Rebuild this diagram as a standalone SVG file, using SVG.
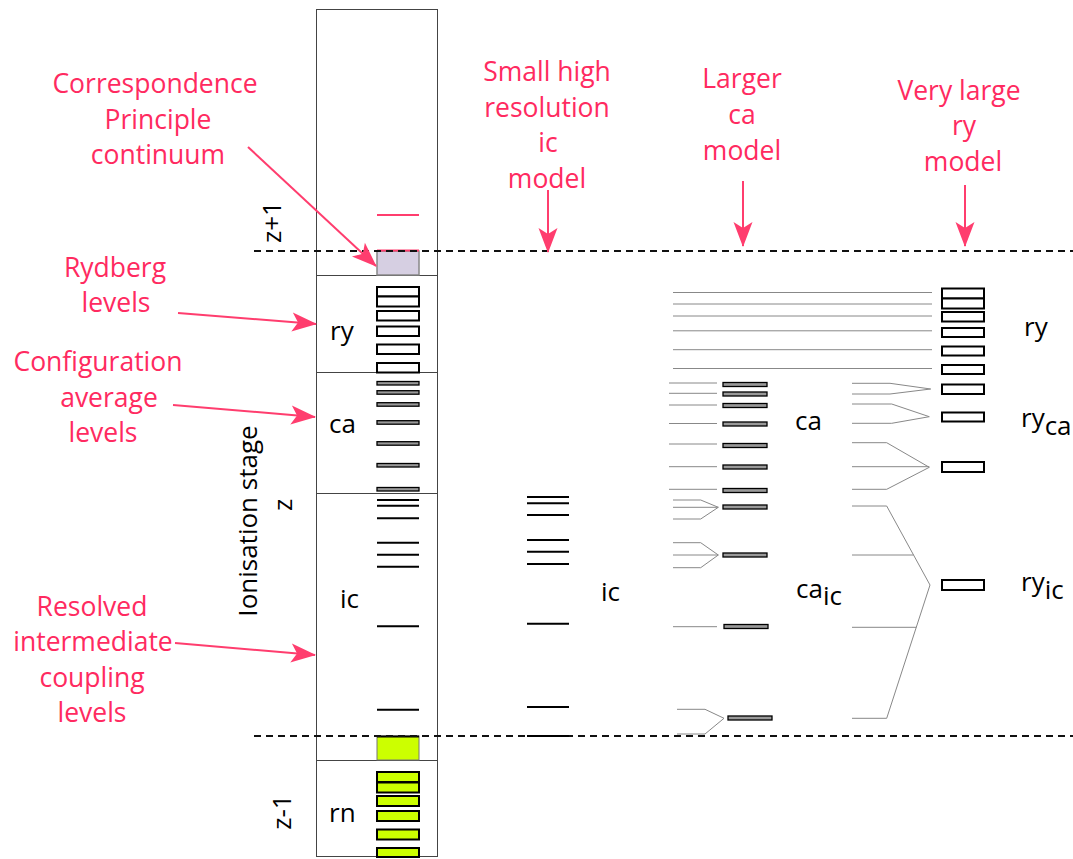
<svg xmlns="http://www.w3.org/2000/svg" width="1073" height="859" viewBox="0 0 1073 859">
  <style>
    text { font-family: "Open Sans", "Noto Sans", "Liberation Sans", sans-serif; }
    .note { fill: #ff2a60; font-size: 26.5px; text-anchor: middle; }
    .lbl { fill: #000; font-size: 26px; }
    .frame { fill: none; stroke: #444; stroke-width: 1; }
    .dash { stroke: #111; stroke-width: 2; stroke-dasharray: 7 5; fill: none; }
    .box { fill: #fff; stroke: #000; stroke-width: 2; }
    .bar { fill: #999; stroke: #000; stroke-width: 1.3; }
    .green { fill: #ccff00; stroke: #000; stroke-width: 2; }
    .lvl { stroke: #000; stroke-width: 2; fill: none; }
    .thin { stroke: #888; stroke-width: 1; fill: none; }
    .arrow { stroke: #ff3d6e; stroke-width: 2; fill: none; marker-end: url(#ah); }
  </style>
  <defs>
    <marker id="ah" viewBox="-26 -11 28 22" refX="0" refY="0" markerWidth="28" markerHeight="22" markerUnits="userSpaceOnUse" orient="auto">
      <path d="M1,0 L-24,-9.5 L-18,0 L-24,9.5 Z" fill="#ff3d6e"/>
    </marker>
  </defs>
  <rect width="1073" height="859" fill="#fff"/>

  <!-- ionisation-stage column -->
  <g id="stage-column">
    <rect class="frame" x="316.5" y="9.5" width="121" height="847"/>
    <line class="frame" x1="316.5" y1="275.5" x2="437.5" y2="275.5"/>
    <line class="frame" x1="316.5" y1="372.5" x2="437.5" y2="372.5"/>
    <line class="frame" x1="316.5" y1="493.5" x2="437.5" y2="493.5"/>
    <line class="frame" x1="316.5" y1="760.5" x2="437.5" y2="760.5"/>
  </g>

  <!-- z+1 stage -->
  <g id="z-plus-1">
    <line x1="377" y1="215" x2="419" y2="215" stroke="#ff3d6e" stroke-width="2"/>
    <rect x="377" y="251" width="42" height="24" fill="#d6cfe2" stroke="#888" stroke-width="1.5"/>
    <line x1="377" y1="250.5" x2="419" y2="250.5" stroke="#ff3d6e" stroke-width="2"/>
    <text class="lbl" transform="translate(281,222) rotate(-90)" text-anchor="middle">z+1</text>
  </g>

  <!-- Rydberg levels of stage z -->
  <g id="ry-levels">
    <rect class="box" x="377" y="287" width="42" height="9.5"/>
    <rect class="box" x="377" y="296.5" width="42" height="10"/>
    <rect class="box" x="377" y="311" width="42" height="9.5"/>
    <rect class="box" x="377" y="326.5" width="42" height="9.5"/>
    <rect class="box" x="377" y="344.5" width="42" height="9.5"/>
    <rect class="box" x="377" y="363" width="42" height="9.5"/>
    <text class="lbl" x="330" y="340">ry</text>
  </g>

  <!-- configuration average levels of stage z -->
  <g id="ca-levels">
    <rect class="bar" x="377" y="381.5" width="42" height="3.5"/>
    <rect class="bar" x="377" y="390.7" width="42" height="3.5"/>
    <rect class="bar" x="377" y="402.7" width="42" height="3.5"/>
    <rect class="bar" x="377" y="420.7" width="42" height="3.5"/>
    <rect class="bar" x="377" y="441.7" width="42" height="3.5"/>
    <rect class="bar" x="377" y="463.5" width="42" height="3.5"/>
    <rect class="bar" x="377" y="487.5" width="42" height="3.5"/>
    <text class="lbl" x="329" y="433">ca</text>
  </g>

  <!-- intermediate coupling levels of stage z -->
  <g id="ic-levels">
    <path class="lvl" d="M377,500H419M377,505.7H419M377,518.3H419M377,542.7H419M377,554.7H419M377,566.7H419M377,626.3H419M377,709.7H419"/>
    <text class="lbl" x="340" y="608">ic</text>
  </g>

  <!-- z-1 stage -->
  <g id="z-minus-1">
    <rect x="377" y="736" width="42" height="24" fill="#ccff00" stroke="#777" stroke-width="1"/>
    <line x1="377" y1="736.5" x2="419" y2="736.5" stroke="#000" stroke-width="2"/>
    <rect class="green" x="377" y="772" width="42" height="10"/>
    <rect class="green" x="377" y="782.5" width="42" height="10"/>
    <rect class="green" x="377" y="796" width="42" height="10"/>
    <rect class="green" x="377" y="811" width="42" height="10"/>
    <rect class="green" x="377" y="829.5" width="42" height="10"/>
    <rect class="green" x="377" y="848" width="42" height="9"/>
    <text class="lbl" x="329" y="822">rn</text>
    <text class="lbl" transform="translate(291,812) rotate(-90)" text-anchor="middle">z-1</text>
  </g>

  <!-- stage axis labels -->
  <g id="stage-axis">
    <text class="lbl" transform="translate(257,521) rotate(-90)" text-anchor="middle">Ionisation stage</text>
    <text class="lbl" transform="translate(292,505) rotate(-90)" text-anchor="middle">z</text>
  </g>

  <!-- ionisation limits -->
  <g id="limits">
    <line class="dash" x1="254" y1="251" x2="1073" y2="251"/>
    <line class="dash" x1="254" y1="736" x2="1073" y2="736"/>
  </g>

  <!-- small high resolution ic model -->
  <g id="ic-model">
    <path class="lvl" d="M527,497H569M527,503.3H569M527,515H569M527,540H569M527,551.7H569M527,564H569M527,623.7H569M527,707H569M527,736H569"/>
    <text class="lbl" x="601" y="601">ic</text>
  </g>

  <!-- larger ca model -->
  <g id="ca-model">
    <rect class="bar" x="723" y="382.5" width="44" height="4"/>
    <rect class="bar" x="723" y="392" width="44" height="4"/>
    <rect class="bar" x="723" y="403.5" width="44" height="4"/>
    <rect class="bar" x="723" y="422" width="44" height="4"/>
    <rect class="bar" x="723" y="443.5" width="44" height="4"/>
    <rect class="bar" x="723" y="465" width="44" height="4"/>
    <rect class="bar" x="723" y="488.5" width="44" height="4"/>
    <rect class="bar" x="723" y="505" width="44" height="4"/>
    <rect class="bar" x="723" y="553" width="44" height="4"/>
    <rect class="bar" x="724" y="624.5" width="44" height="4"/>
    <rect class="bar" x="728" y="716" width="44" height="4"/>
    <text class="lbl" x="795" y="430">ca</text>
    <text class="lbl" x="796" y="598">ca<tspan font-size="26" dy="7">ic</tspan></text>
  </g>

  <!-- very large ry model -->
  <g id="ry-model">
    <rect class="box" x="942" y="288.5" width="42" height="10"/>
    <rect class="box" x="942" y="298.5" width="42" height="10"/>
    <rect class="box" x="942" y="312" width="42" height="9.5"/>
    <rect class="box" x="942" y="328" width="42" height="9"/>
    <rect class="box" x="942" y="346.5" width="42" height="9"/>
    <rect class="box" x="942" y="365" width="42" height="9"/>
    <rect class="box" x="942" y="384.5" width="42" height="9.5"/>
    <rect class="box" x="942" y="412.5" width="42" height="9"/>
    <rect class="box" x="942" y="462" width="42" height="10"/>
    <rect class="box" x="942" y="580" width="42" height="10"/>
    <text class="lbl" x="1024" y="336">ry</text>
    <text class="lbl" x="1021" y="427">ry<tspan dy="8">ca</tspan></text>
    <text class="lbl" x="1021" y="591">ry<tspan dy="8">ic</tspan></text>
  </g>

  <!-- level mappings between models -->
  <g id="connectors">
    <!-- ic levels bundled into ca levels -->
    <path class="thin" d="M669,383H717M669,393.3H717M669,405H717M669,423.5H717M669,444H717M669,466.7H717M669,489.3H717"/>
    <path class="thin" d="M673,500H700.7L718.3,507.3L700.7,519H673M673,507.3H718.3"/>
    <path class="thin" d="M673,542.7H700.7L718.3,555L700.7,567.7H673M673,555H718.3"/>
    <path class="thin" d="M673,626.7H717"/>
    <path class="thin" d="M677,709.3H705L724,718.3L705,734H677"/>
    <!-- Rydberg levels carried straight across -->
    <path class="thin" d="M673,292.5H932M673,304H932M673,316H932M673,330.8H932M673,349.7H932M673,368.5H932"/>
    <!-- ca levels bundled into Rydberg levels -->
    <path class="thin" d="M852,383.3H890L930.7,389L890,394H852"/>
    <path class="thin" d="M852,404H891.7L929.3,416.7L891.7,423.3H852"/>
    <path class="thin" d="M852,442.7H886.7L929.3,467.3L886.7,489.3H852M852,466.7H929.3"/>
    <path class="thin" d="M852,506H886.7L930,585L886.7,718.3H852M852,555H913.6M852,627.3H916.3"/>
    <!-- callout arrows -->
    <path class="arrow" d="M248,147L376,266"/>
    <path class="arrow" d="M178,313L316,324"/>
    <path class="arrow" d="M173,405L315,417"/>
    <path class="arrow" d="M175,643L315,655"/>
    <path class="arrow" d="M548,190V252"/>
    <path class="arrow" d="M743,181V246"/>
    <path class="arrow" d="M965,185V246"/>
  </g>

  <!-- callout captions -->
  <g id="captions">
    <text class="note" x="155" y="93">Correspondence</text>
    <text class="note" x="158" y="129">Principle</text>
    <text class="note" x="158" y="164">continuum</text>
    <text class="note" x="115" y="277">Rydberg</text>
    <text class="note" x="116" y="312">levels</text>
    <text class="note" x="98" y="371">Configuration</text>
    <text class="note" x="109" y="407">average</text>
    <text class="note" x="103" y="442">levels</text>
    <text class="note" x="92" y="616">Resolved</text>
    <text class="note" x="93" y="651">intermediate</text>
    <text class="note" x="92" y="687">coupling</text>
    <text class="note" x="92" y="722">levels</text>
    <text class="note" x="547" y="81">Small high</text>
    <text class="note" x="547" y="117">resolution</text>
    <text class="note" x="548" y="152">ic</text>
    <text class="note" x="547" y="188">model</text>
    <text class="note" x="742" y="88">Larger</text>
    <text class="note" x="742" y="124">ca</text>
    <text class="note" x="742" y="160">model</text>
    <text class="note" x="959" y="100">Very large</text>
    <text class="note" x="964" y="135">ry</text>
    <text class="note" x="963" y="171">model</text>
  </g>
</svg>
